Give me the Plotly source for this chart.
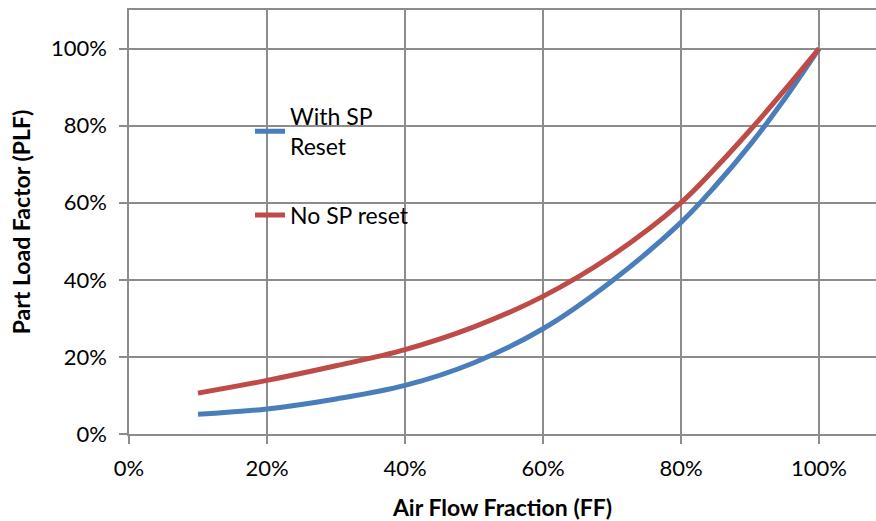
import plotly.graph_objects as go

ff = [0.10, 0.20, 0.30, 0.40, 0.50, 0.60, 0.70, 0.80, 0.85, 0.90, 0.95, 1.00]
with_sp_reset = [0.051, 0.065, 0.091, 0.126, 0.185, 0.273, 0.397, 0.549, 0.644, 0.750, 0.869, 1.000]
no_sp_reset = [0.106, 0.139, 0.177, 0.219, 0.278, 0.357, 0.463, 0.600, 0.690, 0.788, 0.892, 1.000]

x_ticks = [0, 0.2, 0.4, 0.6, 0.8, 1.0]
x_labels = ["0%", "20%", "40%", "60%", "80%", "100%"]
y_ticks = [0, 0.2, 0.4, 0.6, 0.8, 1.0]
y_labels = ["0%", "20%", "40%", "60%", "80%", "100%"]

FONT = "Lato, 'Open Sans', sans-serif"
GRID = "#8c8c8c"

fig = go.Figure()
fig.add_trace(go.Scatter(
    x=ff, y=with_sp_reset, mode="lines", name="With SP<br>Reset",
    line=dict(color="#4A7EBB", width=5, shape="spline", smoothing=1.0),
    legendgroup="a"))
fig.add_trace(go.Scatter(
    x=ff, y=no_sp_reset, mode="lines", name="No SP reset",
    line=dict(color="#BE4B48", width=5, shape="spline", smoothing=1.0),
    legendgroup="b"))

fig.update_layout(
    width=876, height=521,
    margin=dict(l=129, r=0, t=10, b=87),
    paper_bgcolor="white", plot_bgcolor="white",
    font=dict(family=FONT, size=22, color="#000000"),
    showlegend=True,
    legend=dict(x=0.162, y=0.80, xanchor="left", yanchor="top",
                bgcolor="rgba(0,0,0,0)", tracegroupgap=36,
                font=dict(size=23), itemwidth=30),
    xaxis=dict(range=[0, 1.0826], tickvals=x_ticks, ticktext=x_labels,
               showgrid=True, gridcolor=GRID, gridwidth=1.5,
               showline=True, linecolor=GRID, linewidth=1.5, mirror=True,
               ticks="outside", ticklen=8, tickcolor=GRID, tickwidth=1.5,
               zeroline=False, ticklabelstandoff=6, tickfont=dict(size=22),
               title=dict(text="<b>Air Flow Fraction (FF)</b>", font=dict(size=23), standoff=20)),
    yaxis=dict(range=[0, 1.1], tickvals=y_ticks, ticktext=y_labels,
               showgrid=True, gridcolor=GRID, gridwidth=1.5,
               showline=True, linecolor=GRID, linewidth=1.5,
               ticks="outside", ticklen=8, tickcolor=GRID, tickwidth=1.5,
               zeroline=False, ticklabelstandoff=8, tickfont=dict(size=22),
               title=dict(text="<b>Part Load Factor (PLF)</b>", font=dict(size=23), standoff=14)),
)

fig.write_html("out.html")
